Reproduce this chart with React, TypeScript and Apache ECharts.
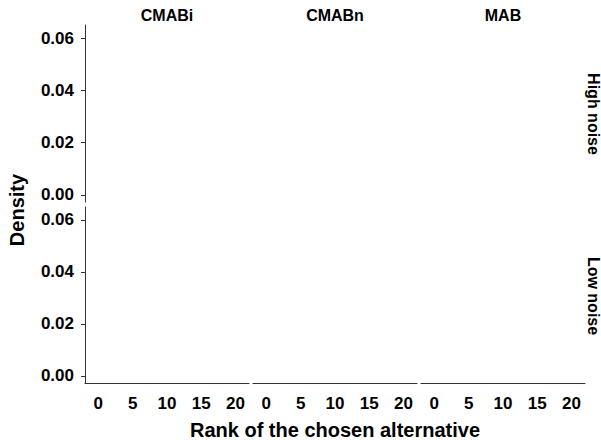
import React, { useEffect, useRef } from "react";
import * as echarts from "echarts";

const panels = ["CMABi", "CMABn", "MAB"];
const noiseRows = ["High noise", "Low noise"];
const xTicks = [0, 5, 10, 15, 20];
const yTicks = [0, 0.02, 0.04, 0.06];
const xRange = [-1.94, 21.96];
const yRange = [-0.0027, 0.065];
// Density values per facet (none drawn in the reference)
const highNoiseCMABi: number[][] = [];
const highNoiseCMABn: number[][] = [];
const highNoiseMAB: number[][] = [];
const lowNoiseCMABi: number[][] = [];
const lowNoiseCMABn: number[][] = [];
const lowNoiseMAB: number[][] = [];
const facetData = [
  [highNoiseCMABi, highNoiseCMABn, highNoiseMAB],
  [lowNoiseCMABi, lowNoiseCMABn, lowNoiseMAB],
];

const FONT = "'Liberation Sans', Arial, sans-serif";

export default function App() {
  const ref = useRef<HTMLDivElement>(null);
  useEffect(() => {
    document.body.style.margin = "0";
    const chart = echarts.init(ref.current!, null, { renderer: "svg" });
    const colLeft = [85, 253, 421];
    const colW = 164;
    const rowTop = [25, 207];
    const rowH = [177, 176];
    const grids: any[] = [];
    const xAxes: any[] = [];
    const yAxes: any[] = [];
    const series: any[] = [];
    let idx = 0;
    for (let r = 0; r < 2; r++) {
      for (let c = 0; c < 3; c++) {
        grids.push({ left: colLeft[c], top: rowTop[r], width: colW, height: rowH[r] });
        const showX = r === 1;
        const showY = c === 0;
        xAxes.push({
          type: "value",
          gridIndex: idx,
          min: xRange[0],
          max: xRange[1],
          axisLine: { show: showX, onZero: false, lineStyle: { color: "#333", width: 1 } },
          axisTick: { show: false },
          splitLine: { show: false },
          axisLabel: {
            show: showX,
            customValues: xTicks,
            margin: 12,
            color: "#000",
            fontSize: 17,
            fontWeight: "bold",
            fontFamily: FONT,
          },
        });
        yAxes.push({
          type: "value",
          gridIndex: idx,
          min: yRange[0],
          max: yRange[1],
          axisLine: { show: showY, onZero: false, lineStyle: { color: "#333", width: 1 } },
          axisTick: { show: showY, customValues: yTicks, length: 4, lineStyle: { color: "#333" } },
          splitLine: { show: false },
          axisLabel: {
            show: showY,
            customValues: yTicks,
            margin: 11,
            color: "#000",
            fontSize: 17,
            fontWeight: "bold",
            fontFamily: FONT,
            formatter: (v: number) => v.toFixed(2),
          },
        });
        series.push({
          type: "line",
          xAxisIndex: idx,
          yAxisIndex: idx,
          data: facetData[r][c],
          showSymbol: false,
          lineStyle: { color: "#000" },
        });
        idx++;
      }
    }
    const graphics: any[] = [];
    panels.forEach((p, c) => {
      graphics.push({
        type: "text",
        x: colLeft[c] + colW / 2,
        y: 15,
        style: {
          text: p,
          fill: "#000",
          font: `bold 16px ${FONT}`,
          textAlign: "center",
          textVerticalAlign: "middle",
        },
      });
    });
    const rowCenters = [114, 296];
    noiseRows.forEach((n, r) => {
      graphics.push({
        type: "text",
        x: 593,
        y: rowCenters[r],
        rotation: -Math.PI / 2,
        style: {
          text: n,
          fill: "#000",
          font: `bold 16px ${FONT}`,
          textAlign: "center",
          textVerticalAlign: "middle",
        },
      });
    });
    graphics.push({
      type: "text",
      x: 17,
      y: 210,
      rotation: Math.PI / 2,
      style: {
        text: "Density",
        fill: "#000",
        font: `bold 20px ${FONT}`,
        textAlign: "center",
        textVerticalAlign: "middle",
      },
    });
    graphics.push({
      type: "text",
      x: 335,
      y: 430,
      style: {
        text: "Rank of the chosen alternative",
        fill: "#000",
        font: `bold 20px ${FONT}`,
        textAlign: "center",
        textVerticalAlign: "middle",
      },
    });
    chart.setOption({
      animation: false,
      backgroundColor: "#fff",
      grid: grids,
      xAxis: xAxes,
      yAxis: yAxes,
      series,
      graphic: graphics,
    });
    return () => chart.dispose();
  }, []);
  return <div ref={ref} style={{ width: 601, height: 440, position: "absolute", left: 0, top: 0 }} />;
}
